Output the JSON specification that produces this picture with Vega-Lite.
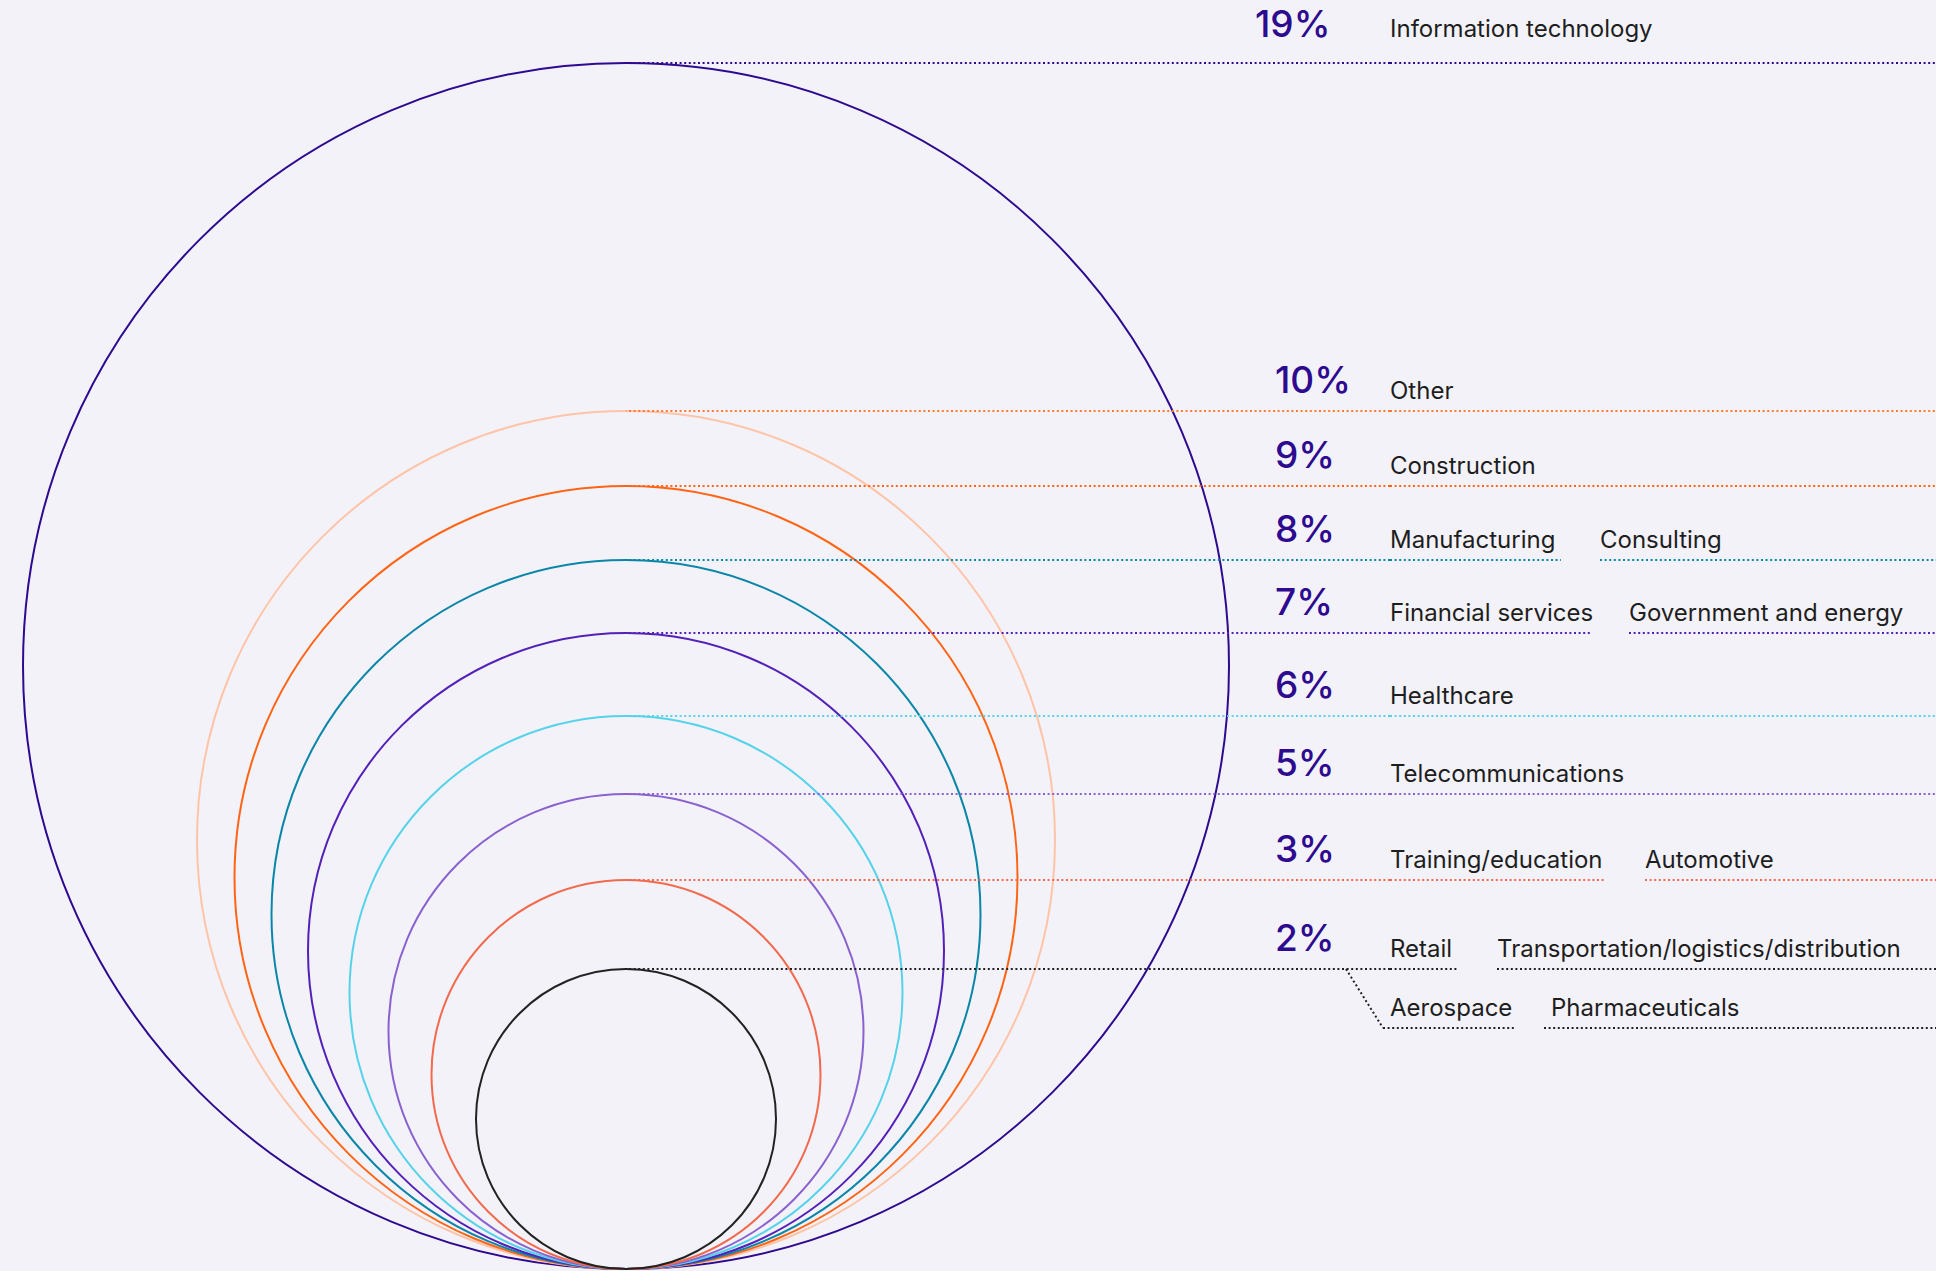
{
  "$schema": "https://vega.github.io/schema/vega-lite/v6.json",
  "width": 1936,
  "height": 1271,
  "autosize": {"type": "fit", "contains": "padding"},
  "padding": 0,
  "background": "#F3F2F8",
  "config": {"view": {"stroke": null}, "text": {"font": "Inter"}},
  "data": {
    "values": [
      {"share": 0.19, "industry": "Information technology", "id": 1, "order": 1},
      {"share": 0.10, "industry": "Other", "id": 2, "order": 1},
      {"share": 0.09, "industry": "Construction", "id": 3, "order": 1},
      {"share": 0.08, "industry": "Manufacturing", "id": 4, "order": 1},
      {"share": 0.08, "industry": "Consulting", "id": 5, "order": 2},
      {"share": 0.07, "industry": "Financial services", "id": 6, "order": 1},
      {"share": 0.07, "industry": "Government and energy", "id": 7, "order": 2},
      {"share": 0.06, "industry": "Healthcare", "id": 8, "order": 1},
      {"share": 0.05, "industry": "Telecommunications", "id": 9, "order": 1},
      {"share": 0.03, "industry": "Training/education", "id": 10, "order": 1},
      {"share": 0.03, "industry": "Automotive", "id": 11, "order": 2},
      {"share": 0.02, "industry": "Retail", "id": 12, "order": 1},
      {"share": 0.02, "industry": "Transportation/logistics/distribution", "id": 13, "order": 2},
      {"share": 0.02, "industry": "Aerospace", "id": 14, "order": 3},
      {"share": 0.02, "industry": "Pharmaceuticals", "id": 15, "order": 4}
    ]
  },
  "layer": [
    {
      "transform": [{"filter": "datum.order == 1"}],
      "mark": {"type": "point", "shape": "M0,0 A1,1 0 1,1 0,2 A1,1 0 1,1 0,0 Z", "filled": false, "strokeWidth": 2, "opacity": 1},
      "encoding": {
        "x": {"datum": 0, "type": "quantitative", "axis": null,
          "scale": {"domain": [0, 0.5, 1, 2, 3, 4, 5, 6, 7, 8, 9, 10, 11, 12, 13, 14, 15, 16], "range": [626, 1275, 1390, 1390, 1390, 1390, 1600, 1390, 1629, 1390, 1390, 1390, 1645, 1390, 1497, 1390, 1551, 1936], "nice": false, "zero": false}},
        "y": {"field": "share", "type": "quantitative", "axis": null,
          "scale": {"domain": [0.02, 0.03, 0.05, 0.06, 0.07, 0.08, 0.09, 0.10, 0.19], "range": [969, 880, 794, 716, 633, 560, 486, 411, 63], "nice": false, "zero": false}},
        "size": {"field": "share", "type": "quantitative", "legend": null,
          "scale": {"domain": [0.02, 0.03, 0.05, 0.06, 0.07, 0.08, 0.09, 0.10, 0.19], "range": [90000, 151321, 225625, 305809, 404496, 502681, 613089, 736164, 1454436], "nice": false, "zero": false}},
        "color": {"field": "share", "type": "ordinal", "legend": null,
          "scale": {"domain": [0.02, 0.03, 0.05, 0.06, 0.07, 0.08, 0.09, 0.10, 0.19], "range": ["#222222", "#F26A4E", "#8A62D0", "#55D3EA", "#5320B8", "#0A86A8", "#FF6414", "#FFC4A8", "#2D0A8F"]}}
      }
    },
    {
      "transform": [{"filter": "datum.order == 1"}],
      "mark": {"type": "rule", "strokeWidth": 2, "strokeDash": [2, 2.6]},
      "encoding": {
        "x": {"field": "id", "type": "quantitative"},
        "x2": {"datum": 0},
        "y": {"field": "share", "type": "quantitative"},
        "stroke": {"field": "share", "type": "ordinal", "legend": null,
          "scale": {"domain": [0.02, 0.03, 0.05, 0.06, 0.07, 0.08, 0.09, 0.10, 0.19], "range": ["#222222", "#F26A4E", "#8A62D0", "#55D3EA", "#5320B8", "#0A86A8", "#FF6414", "#FF7A33", "#2D0A8F"]}}
      }
    },
    {
      "transform": [
        {"filter": "datum.order <= 2"},
        {"window": [{"op": "lead", "field": "id", "as": "next"}], "groupby": ["share"], "sort": [{"field": "id", "order": "ascending"}]},
        {"filter": "isValid(datum.next)"}
      ],
      "mark": {"type": "rule", "strokeWidth": 2, "strokeDash": [2, 2.6], "x2Offset": -39},
      "encoding": {
        "x": {"field": "id", "type": "quantitative"},
        "x2": {"field": "next"},
        "y": {"field": "share", "type": "quantitative"},
        "stroke": {"field": "share", "type": "ordinal", "legend": null}
      }
    },
    {
      "transform": [
        {"filter": "datum.order <= 2"},
        {"window": [{"op": "lead", "field": "id", "as": "next"}], "groupby": ["share"], "sort": [{"field": "id", "order": "ascending"}]},
        {"filter": "!isValid(datum.next)"}
      ],
      "mark": {"type": "rule", "strokeWidth": 2, "strokeDash": [2, 2.6]},
      "encoding": {
        "x": {"field": "id", "type": "quantitative"},
        "x2": {"datum": 16},
        "y": {"field": "share", "type": "quantitative"},
        "stroke": {"field": "share", "type": "ordinal", "legend": null}
      }
    },
    {
      "transform": [
        {"filter": "datum.order >= 3"},
        {"window": [{"op": "lead", "field": "id", "as": "next"}], "groupby": ["share"], "sort": [{"field": "id", "order": "ascending"}]},
        {"filter": "isValid(datum.next)"}
      ],
      "mark": {"type": "rule", "strokeWidth": 2, "strokeDash": [2, 2.6], "xOffset": -7, "x2Offset": -36, "yOffset": 59},
      "encoding": {
        "x": {"field": "id", "type": "quantitative"},
        "x2": {"field": "next"},
        "y": {"field": "share", "type": "quantitative"},
        "stroke": {"field": "share", "type": "ordinal", "legend": null}
      }
    },
    {
      "transform": [
        {"filter": "datum.order >= 3"},
        {"window": [{"op": "lead", "field": "id", "as": "next"}], "groupby": ["share"], "sort": [{"field": "id", "order": "ascending"}]},
        {"filter": "!isValid(datum.next)"}
      ],
      "mark": {"type": "rule", "strokeWidth": 2, "strokeDash": [2, 2.6], "xOffset": -7, "yOffset": 59},
      "encoding": {
        "x": {"field": "id", "type": "quantitative"},
        "x2": {"datum": 16},
        "y": {"field": "share", "type": "quantitative"},
        "stroke": {"field": "share", "type": "ordinal", "legend": null}
      }
    },
    {
      "transform": [{"filter": "datum.order == 3"}],
      "mark": {"type": "rule", "strokeWidth": 2, "strokeDash": [2, 2.6], "xOffset": -44, "x2Offset": -7, "y2Offset": 59},
      "encoding": {
        "x": {"field": "id", "type": "quantitative"},
        "x2": {"field": "id"},
        "y": {"field": "share", "type": "quantitative"},
        "y2": {"field": "share"},
        "stroke": {"field": "share", "type": "ordinal", "legend": null}
      }
    },
    {
      "transform": [{"filter": "datum.order == 1 && datum.share != 0.19"}],
      "mark": {"type": "text", "align": "left", "baseline": "alphabetic", "dy": -18, "fontSize": 37, "fontWeight": 500, "color": "#2D0A8F"},
      "encoding": {
        "x": {"datum": 0.5, "type": "quantitative"},
        "y": {"field": "share", "type": "quantitative"},
        "text": {"field": "share", "type": "quantitative", "format": ".0%"}
      }
    },
    {
      "transform": [{"filter": "datum.share == 0.19"}],
      "mark": {"type": "text", "align": "left", "baseline": "alphabetic", "dx": -20, "dy": -26, "fontSize": 37, "fontWeight": 500, "color": "#2D0A8F"},
      "encoding": {
        "x": {"datum": 0.5, "type": "quantitative"},
        "y": {"field": "share", "type": "quantitative"},
        "text": {"field": "share", "type": "quantitative", "format": ".0%"}
      }
    },
    {
      "transform": [{"filter": "datum.order <= 2 && datum.share != 0.19"}],
      "mark": {"type": "text", "align": "left", "baseline": "alphabetic", "dy": -12, "fontSize": 24, "color": "#1E1E1E"},
      "encoding": {
        "x": {"field": "id", "type": "quantitative"},
        "y": {"field": "share", "type": "quantitative"},
        "text": {"field": "industry", "type": "nominal"}
      }
    },
    {
      "transform": [{"filter": "datum.share == 0.19"}],
      "mark": {"type": "text", "align": "left", "baseline": "alphabetic", "dy": -26, "fontSize": 24, "color": "#1E1E1E"},
      "encoding": {
        "x": {"field": "id", "type": "quantitative"},
        "y": {"field": "share", "type": "quantitative"},
        "text": {"field": "industry", "type": "nominal"}
      }
    },
    {
      "transform": [{"filter": "datum.order >= 3"}],
      "mark": {"type": "text", "align": "left", "baseline": "alphabetic", "dy": 47, "fontSize": 24, "color": "#1E1E1E"},
      "encoding": {
        "x": {"field": "id", "type": "quantitative"},
        "y": {"field": "share", "type": "quantitative"},
        "text": {"field": "industry", "type": "nominal"}
      }
    }
  ]
}
